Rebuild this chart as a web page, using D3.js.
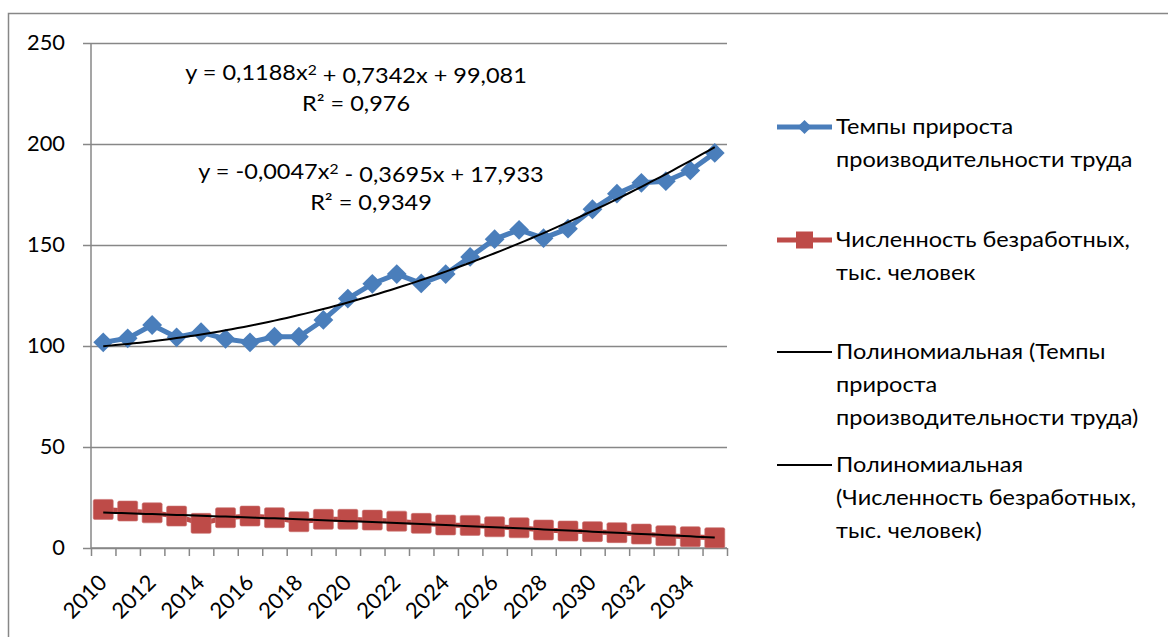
<!DOCTYPE html>
<html><head><meta charset="utf-8">
<script src="https://cdn.jsdelivr.net/npm/d3@7"></script>
<style>body{margin:0;background:#fff}svg{display:block}text{font-family:Lato,"Liberation Sans",sans-serif;fill:#000}</style>
</head><body>
<script>
const years = d3.range(2010, 2036).map(String);
const yTicks = [0, 50, 100, 150, 200, 250];
const labelYears = years.filter((d, i) => i % 2 === 0);
const productivity = [101.8, 103.8, 110.4, 104.3, 106.8, 103.5, 101.8, 104.6, 104.6, 112.9, 123.5, 130.8, 135.6, 131.0, 135.6, 144.1, 152.9, 157.5, 153.4, 158.1, 167.7, 175.4, 180.8, 181.6, 186.9, 195.6];
const unemployed = [19.1, 18.3, 17.4, 15.8, 12.2, 15.0, 15.8, 15.0, 13.0, 14.2, 14.2, 13.8, 13.3, 12.2, 11.4, 11.2, 10.5, 10.0, 8.9, 8.4, 8.1, 7.6, 6.9, 6.1, 5.6, 5.1];
const trendProd = [0.1188, 0.7342, 99.081];
const trendUnemp = [-0.0047, -0.3695, 17.933];
const legendLines = [
  ["Темпы прироста", "производительности труда"],
  ["Численность безработных,", "тыс. человек"],
  ["Полиномиальная (Темпы", "прироста", "производительности труда)"],
  ["Полиномиальная", "(Численность безработных,", "тыс. человек)"]
];

const W = 1168, H = 637;
const blue = "#4a7ebb", red = "#be4b48", grid = "#878787";
const FS = 21, SX = 1.12, SXN = 1.04;
const svg = d3.select("body").append("svg").attr("width", W).attr("height", H);

function txt(g, x, y, s, anchor, sx) {
  return g.append("text").attr("transform", `translate(${x},${y}) scale(${sx},1)`)
    .attr("text-anchor", anchor).attr("dy", "0.35em").attr("font-size", FS).text(s);
}

svg.append("rect").attr("x", 8.5).attr("y", 13.5).attr("width", 1200).attr("height", 700)
  .attr("fill", "none").attr("stroke", grid).attr("stroke-width", 1.5);

const L = 91, R = 727, T = 43, B = 548;
const x = d3.scaleBand().domain(years).range([L, R]).padding(0);
const xi = d3.scaleLinear().domain([0, years.length]).range([L, R]);
const y = d3.scaleLinear().domain([0, 250]).range([B, T]);
const cx = d => x(d) + x.bandwidth() / 2;

// gridlines
const gridG = svg.append("g").attr("transform", `translate(${L},0)`)
  .call(d3.axisLeft(y).tickValues(yTicks).tickSize(-(R - L)).tickFormat(""));
gridG.select(".domain").remove();
gridG.selectAll("line").attr("stroke", grid).attr("stroke-width", 1.5);

// y axis
const yAx = svg.append("g").attr("transform", `translate(${L},0)`)
  .call(d3.axisLeft(y).tickValues(yTicks).tickSize(8).tickFormat(""));
yAx.select(".domain").attr("stroke", grid).attr("stroke-width", 1.5).attr("d", `M0,${T}V${B}`);
yAx.selectAll("line").attr("stroke", grid).attr("stroke-width", 1.5);
const yLab = svg.append("g");
yTicks.forEach(v => txt(yLab, 65, y(v), String(v), "end", SXN));

// x axis
const xAx = svg.append("g").attr("transform", `translate(0,${B})`)
  .call(d3.axisBottom(xi).tickValues(d3.range(years.length + 1)).tickSize(8).tickFormat(""));
xAx.select(".domain").attr("stroke", grid).attr("stroke-width", 1.5).attr("d", `M${L},0H${R}`);
xAx.selectAll("line").attr("stroke", grid).attr("stroke-width", 1.5);
svg.append("g").selectAll("text").data(labelYears).join("text")
  .attr("transform", d => `translate(${cx(d) + 5},584) rotate(-45)`)
  .attr("text-anchor", "end").attr("font-size", 22).text(d => d);

// series
const line = d3.line().x((d, i) => cx(years[i])).y(d => y(d));
svg.append("path").datum(productivity).attr("d", line).attr("fill", "none")
  .attr("stroke", blue).attr("stroke-width", 5).attr("stroke-linejoin", "round");
svg.append("g").selectAll("path").data(productivity).join("path")
  .attr("d", d3.symbol(d3.symbolSquare, 196)())
  .attr("transform", (d, i) => `translate(${cx(years[i])},${y(d)}) rotate(45)`)
  .attr("fill", blue);

svg.append("path").datum(unemployed).attr("d", line).attr("fill", "none")
  .attr("stroke", red).attr("stroke-width", 5);
svg.append("g").selectAll("rect").data(unemployed).join("rect")
  .attr("x", (d, i) => cx(years[i]) - 10).attr("y", d => y(d) - 10)
  .attr("width", 20).attr("height", 20).attr("rx", 1.5)
  .attr("fill", red).attr("stroke", "#c9716e").attr("stroke-width", 0.6);

// trendlines
function trend(c) {
  const xs = d3.range(1, years.length + 0.001, 0.25);
  return d3.line().x(t => xi(t - 0.5)).y(t => y(c[0] * t * t + c[1] * t + c[2]))(xs);
}
[trendProd, trendUnemp].forEach(c => svg.append("path").attr("d", trend(c))
  .attr("fill", "none").attr("stroke", "#000").attr("stroke-width", 2));

// equations
const fmt = v => String(Math.abs(v)).replace(".", ",");
function eqText(cxp, cy, c, r2) {
  const t = txt(svg, cxp, cy, null, "middle", SX);
  t.append("tspan").text(`y = ${c[0] < 0 ? "-" : ""}${fmt(c[0])}x`);
  t.append("tspan").attr("dy", "-0.4em").attr("font-size", 14).text("2");
  t.append("tspan").attr("dy", "0.4em").text(` ${c[1] < 0 ? "-" : "+"} ${fmt(c[1])}x ${c[2] < 0 ? "-" : "+"} ${fmt(c[2])}`);
  txt(svg, cxp, cy + 31, `R² = ${r2}`, "middle", SX);
}
eqText(356, 73, trendProd, "0,976");
eqText(371, 172, trendUnemp, "0,9349");

// legend
const lg = svg.append("g");
const legY = [127, 240, 352, 465];
const lx0 = 777, lx1 = 832, tx = 836, lh = 33;
legendLines.forEach((lines, k) => {
  const yy = legY[k];
  const col = k === 0 ? blue : k === 1 ? red : "#000";
  lg.append("line").attr("x1", lx0).attr("x2", lx1).attr("y1", yy).attr("y2", yy)
    .attr("stroke", col).attr("stroke-width", k < 2 ? 5 : 2);
  if (k === 0) lg.append("path").attr("d", d3.symbol(d3.symbolSquare, 100)())
    .attr("transform", `translate(${(lx0 + lx1) / 2},${yy}) rotate(45)`).attr("fill", blue);
  if (k === 1) lg.append("rect").attr("x", (lx0 + lx1) / 2 - 8.5).attr("y", yy - 8.5)
    .attr("width", 17).attr("height", 17).attr("fill", red);
  lines.forEach((s, j) => txt(lg, tx, yy + j * lh, s, "start", SX));
});
</script>
</body></html>
